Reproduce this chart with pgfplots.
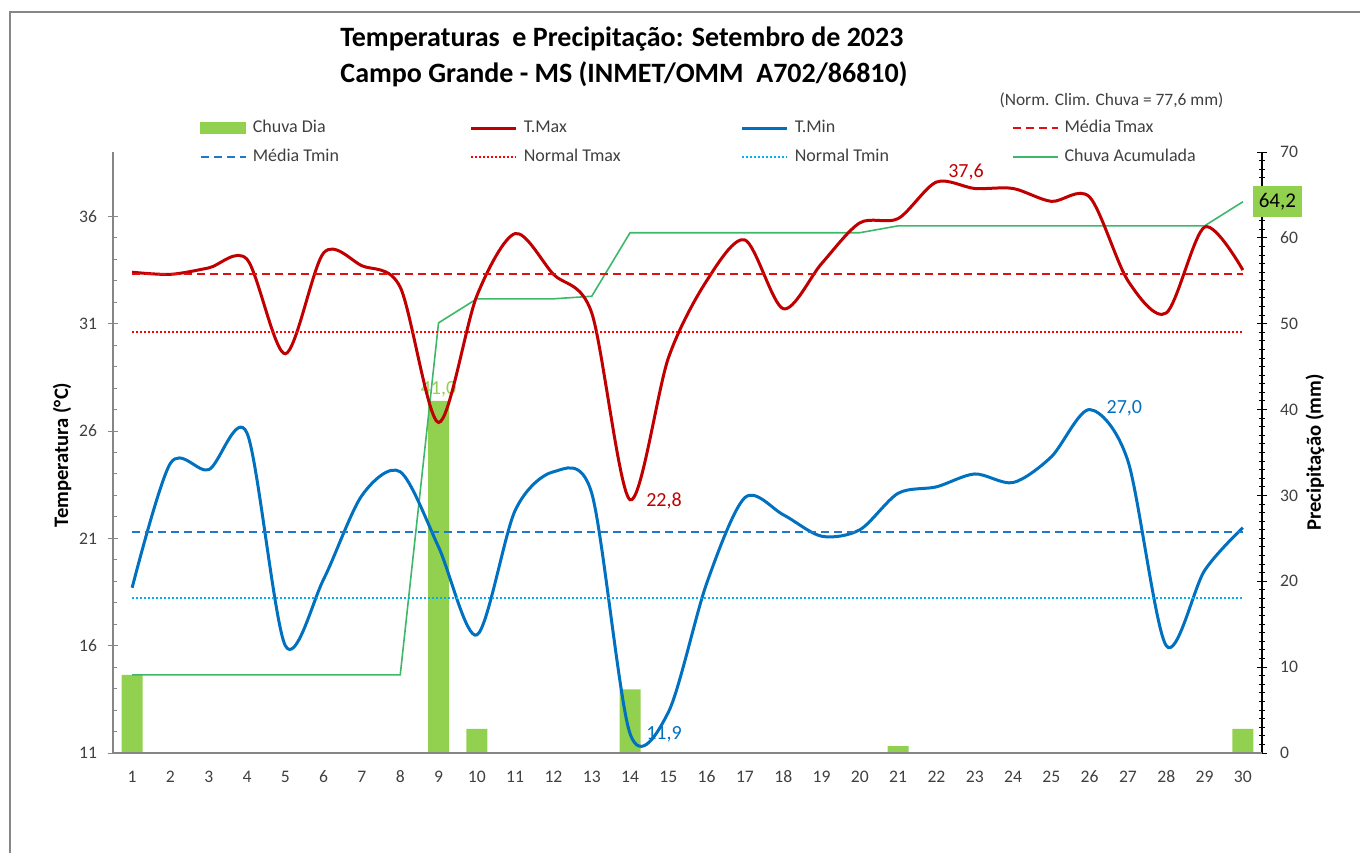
\documentclass[border=0pt]{standalone}
\usepackage{pgfplots}
\usepackage{pgfplotstable}
\pgfplotsset{compat=1.18}
\usepackage{fontspec}
\setmainfont{Carlito}
\definecolor{chuva}{HTML}{92D050}
\definecolor{tmax}{HTML}{C00000}
\definecolor{tmin}{HTML}{0070C0}
\definecolor{mtmax}{HTML}{E01010}
\definecolor{ntmax}{HTML}{FF0000}
\definecolor{mtmin}{HTML}{1F78C8}
\definecolor{ntmin}{HTML}{00B0F0}
\definecolor{acum}{HTML}{3CB868}
\definecolor{axgray}{HTML}{868686}
\definecolor{lbl}{HTML}{404040}

\pgfplotstableread{
day tmax tmin
1 33.4 18.7
2 33.3 24.5
3 33.6 24.2
4 34.0 25.9
5 29.6 16.0
6 34.3 19.1
7 33.7 23.0
8 32.7 24.1
9 26.4 20.6
10 32.3 16.5
11 35.2 22.3
12 33.3 24.1
13 31.5 23.1
14 22.8 11.9
15 29.4 12.9
16 33.0 18.9
17 34.9 22.9
18 31.7 22.1
19 33.8 21.1
20 35.7 21.4
21 35.9 23.1
22 37.6 23.4
23 37.3 24.0
24 37.3 23.6
25 36.7 24.8
26 36.9 27.0
27 33.0 24.6
28 31.5 16.0
29 35.5 19.5
30 33.5 21.5
}\temps

\pgfplotstableread{
day rain
1 9.1
9 41.0
10 2.8
14 7.4
21 0.8
30 2.8
}\rain

\pgfplotstableread{
day acum
1 9.1
2 9.1
3 9.1
4 9.1
5 9.1
6 9.1
7 9.1
8 9.1
9 50.1
10 52.9
11 52.9
12 52.9
13 53.2
14 60.6
15 60.6
16 60.6
17 60.6
18 60.6
19 60.6
20 60.6
21 61.4
22 61.4
23 61.4
24 61.4
25 61.4
26 61.4
27 61.4
28 61.4
29 61.4
30 64.2
}\acum

\begin{document}
\begin{tikzpicture}
% ---------- secondary axis (precipitation) ----------
\begin{axis}[
  at={(56.5pt,49.5pt)}, anchor=south west,
  scale only axis, width=574.5pt, height=300.5pt,
  xmin=0.5, xmax=30.5, ymin=0, ymax=70,
  axis x line*=bottom, axis y line*=right,
  x axis line style={-, draw=axgray, line width=0.6pt},
  y axis line style={-, draw=black, line width=0.6pt},
  xtick=\empty,
  minor xtick={0.5,1.5,...,30.5},
  minor x tick style={draw=axgray, yshift=-1.5pt},
  ytick={0,10,...,70},
  minor y tick num=9,
  ytick style={draw=black},
  tick style={line width=0.5pt},
  tick align=center,
  major tick length=5pt, minor tick length=3pt,
  /pgf/number format/assume math mode=true,
  tick label style={font=\fontsize{8.8}{10}\selectfont, color=lbl},
  yticklabel style={xshift=3pt},
  ylabel={Precipitação (mm)},
  ylabel style={at={(axis description cs:1.0461,0.5)}, anchor=center, font=\bfseries\fontsize{10.3}{12}\selectfont, color=black},
  clip=false,
]
\addplot[ybar, bar width=10.5pt, fill=chuva, draw=none] table[x=day,y=rain] {\rain};
\addplot[acum, line width=0.8pt, sharp plot] table[x=day,y=acum] {\acum};
\node[font=\fontsize{10}{12}\selectfont, text=chuva, yshift=6pt] at (axis cs:9,41) {41,0};
\node[fill=chuva, text=black, minimum width=24.5pt, minimum height=15.5pt, inner sep=0pt, font=\fontsize{10.5}{12}\selectfont, xshift=17.25pt] at (axis cs:30,64.2) {64,2};
\end{axis}

% ---------- primary axis (temperature) ----------
\begin{axis}[
  at={(56.5pt,49.5pt)}, anchor=south west,
  scale only axis, width=574.5pt, height=300.5pt,
  xmin=0.5, xmax=30.5, ymin=11, ymax=39,
  axis x line*=bottom, axis y line*=left,
  axis line style={-, draw=axgray, line width=0.6pt},
  xtick={1,...,30}, xtick style={draw=none},
  ytick={11,16,...,36}, minor y tick num=4,
  minor y tick style={xshift=1pt},
  tick style={draw=axgray, line width=0.5pt},
  tick align=center,
  major tick length=5pt, minor tick length=2pt,
  /pgf/number format/assume math mode=true,
  tick label style={font=\fontsize{8.8}{10}\selectfont, color=lbl},
  yticklabel style={xshift=-2pt},
  xticklabel style={text height=5.6pt, text depth=0pt, yshift=-3pt},
  ylabel={Temperatura (°C)},
  ylabel style={at={(axis description cs:-0.0444,0.496)}, anchor=center, font=\bfseries\fontsize{10.3}{12}\selectfont, color=black},
  clip=false,
  legend columns=4, legend cell align=left,
  legend style={at={(0.0757,1.0557)}, anchor=north west, draw=none, fill=none,
    inner sep=0pt, outer sep=0pt,
    font=\fontsize{9}{11}\selectfont, text=lbl,
    nodes={inner xsep=3pt, inner ysep=1pt, text height=6pt, text depth=1.5pt},
    row sep=5pt, column sep=0pt},
  legend image code/.code={\draw[#1] (0pt,0pt) -- (22.5pt,0pt);},
]
\addlegendimage{legend image code/.code={\fill[chuva] (0pt,-2.75pt) rectangle (22.5pt,2.75pt);}}
\addlegendentry{\makebox[105.5pt][l]{Chuva Dia}}
\addplot[tmax, line width=1.5pt, smooth] table[x=day,y=tmax] {\temps};
\addlegendentry{\makebox[105.5pt][l]{T.Max}}
\addplot[tmin, line width=1.5pt, smooth] table[x=day,y=tmin] {\temps};
\addlegendentry{\makebox[105.5pt][l]{T.Min}}
\addplot[mtmax, line width=0.9pt, dash pattern=on 4pt off 2.5pt] coordinates {(1,33.3) (30,33.3)};
\addlegendentry{\makebox[105.5pt][l]{Média Tmax}}
\addplot[mtmin, line width=0.9pt, dash pattern=on 4pt off 2.5pt] coordinates {(1,21.3) (30,21.3)};
\addlegendentry{\makebox[105.5pt][l]{Média Tmin}}
\addplot[ntmax, line width=1pt, dash pattern=on 1pt off 1pt] coordinates {(1,30.6) (30,30.6)};
\addlegendentry{\makebox[105.5pt][l]{Normal Tmax}}
\addplot[ntmin, line width=1pt, dash pattern=on 1pt off 1pt] coordinates {(1,18.2) (30,18.2)};
\addlegendentry{\makebox[105.5pt][l]{Normal Tmin}}
\addlegendimage{acum, line width=0.8pt}
\addlegendentry{\makebox[105.5pt][l]{Chuva Acumulada}}
\node[font=\fontsize{10}{12}\selectfont, text=tmax, xshift=14.75pt, yshift=4.85pt] at (axis cs:22,37.6) {37,6};
\node[font=\fontsize{10}{12}\selectfont, text=tmax, xshift=17pt, yshift=-0.75pt] at (axis cs:14,22.8) {22,8};
\node[font=\fontsize{10}{12}\selectfont, text=tmin, xshift=17pt, yshift=-0.5pt] at (axis cs:14,11.9) {11,9};
\node[font=\fontsize{10}{12}\selectfont, text=tmin, xshift=17.35pt, yshift=0.5pt] at (axis cs:26,27.0) {27,0};
\end{axis}

% ---------- titles and frame ----------
\node[anchor=base, font=\bfseries\fontsize{14}{16}\selectfont] at (311pt,402.6pt) {Temperaturas\ \ e Precipitação: Setembro de 2023};
\node[anchor=base, font=\bfseries\fontsize{14}{16}\selectfont] at (312pt,384.5pt) {Campo Grande - MS (INMET/OMM\ \ A702/86810)};
\node[anchor=base, font=\fontsize{8.7}{10}\selectfont, text=lbl] at (555.75pt,373pt) {(Norm. Clim. Chuva = 77,6 mm)};
\draw[color=axgray, line width=0.6pt] (5pt,-5pt) -- (5pt,420pt) -- (690pt,420pt);
\pgfresetboundingbox
\useasboundingbox (0pt,0pt) rectangle (680pt,426pt);
\end{tikzpicture}
\end{document}
